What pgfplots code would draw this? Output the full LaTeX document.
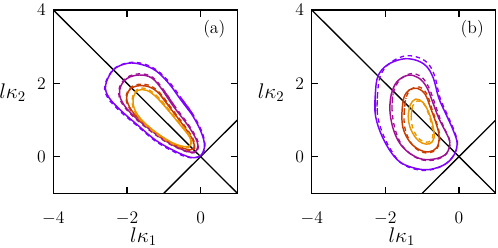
\documentclass[border=0pt]{standalone}
\usepackage{pgfplots}
\pgfplotsset{compat=1.18}
\definecolor{cpurp}{RGB}{128,0,255}
\definecolor{cmag}{RGB}{160,16,150}
\definecolor{cred}{RGB}{200,60,0}
\definecolor{corg}{RGB}{235,150,0}
\pgfplotsset{
 sol/.style={smooth, tension=0.6, line width=1pt},
 das/.style={smooth, tension=0.6, line width=0.9pt, dash pattern=on 3pt off 2.5pt},
 panel/.style={
  width=125.2pt,height=124.7pt,scale only axis,
  xmin=-4,xmax=1,ymin=-1,ymax=4,
  xtick={-4,-2,0}, ytick={0,2,4},
  tick align=inside, major tick length=4.5pt,
  axis line style={line width=0.9pt},
  every tick/.style={black,line width=0.9pt},
  tick label style={font=\fontsize{12}{14}\selectfont},
  xticklabel style={yshift=-9.4pt},
  yticklabel style={xshift=-1.7pt},
  xlabel={$l\kappa_1$}, ylabel={$l\kappa_2$},
  every axis x label/.style={at={(rel axis cs:0.49,0)},anchor=base,yshift=-33.6pt,inner sep=0pt,font=\fontsize{14}{16}\selectfont},
  every axis y label/.style={at={(rel axis cs:0,0.518)},anchor=base east,xshift=-18.4pt,inner sep=0pt,font=\fontsize{14}{16}\selectfont},
 }
}
\begin{document}
\begin{tikzpicture}
\begin{axis}[panel, at={(0,0)}, anchor=south west]
\addplot[black,line width=0.9pt] coordinates {(-4,4) (1,-1)};
\addplot[black,line width=0.9pt] coordinates {(-1,-1) (1,1)};
% purple
\addplot[cpurp,sol] coordinates {(-0.247,1.167) (-0.552,1.570) (-0.849,1.980) (-1.202,2.333) (-1.591,2.510) (-1.980,2.546) (-2.369,2.369) (-2.581,1.945) (-2.489,1.612) (-2.150,1.245) (-1.697,0.849) (-1.237,0.460) (-0.792,0.198) (-0.403,0.021) (-0.170,-0.028) (0.021,0.049) (0.106,0.318) (0.0,0.707) (-0.247,1.167) (-0.552,1.570)};
\addplot[cpurp,das] coordinates {(-0.23,1.19) (-0.53,1.60) (-0.83,2.01) (-1.19,2.36) (-1.58,2.54) (-1.98,2.56) (-2.37,2.38) (-2.60,1.95) (-2.52,1.60) (-2.17,1.22) (-1.71,0.83) (-1.25,0.44) (-0.80,0.17) (-0.41,0.0) (-0.15,-0.03) (0.05,0.06) (0.12,0.33) (0.02,0.72) (-0.23,1.19) (-0.53,1.60)};
% magenta
\addplot[cmag,sol] coordinates {(-0.742,1.379) (-1.025,1.803) (-1.322,2.143) (-1.662,2.227) (-1.994,2.135) (-2.178,1.895) (-2.171,1.577) (-1.909,1.202) (-1.379,0.742) (-0.884,0.389) (-0.460,0.177) (-0.233,0.120) (-0.106,0.177) (-0.092,0.403) (-0.318,0.813) (-0.742,1.379) (-1.025,1.803)};
\addplot[cmag,das] coordinates {(-0.72,1.40) (-1.01,1.83) (-1.31,2.17) (-1.66,2.26) (-2.00,2.16) (-2.20,1.90) (-2.19,1.56) (-1.92,1.18) (-1.39,0.72) (-0.89,0.37) (-0.45,0.16) (-0.22,0.10) (-0.09,0.16) (-0.07,0.41) (-0.30,0.83) (-0.72,1.40) (-1.01,1.83)};
% red
\addplot[cred,sol] coordinates {(-0.813,1.308) (-1.117,1.711) (-1.414,1.909) (-1.754,1.923) (-1.945,1.803) (-2.001,1.534) (-1.803,1.167) (-1.358,0.764) (-0.863,0.410) (-0.474,0.233) (-0.276,0.191) (-0.177,0.247) (-0.226,0.481) (-0.509,0.905) (-0.813,1.308) (-1.117,1.711)};
\addplot[cred,das] coordinates {(-0.80,1.33) (-1.11,1.74) (-1.41,1.95) (-1.76,1.96) (-1.96,1.82) (-2.02,1.53) (-1.82,1.15) (-1.37,0.75) (-0.87,0.39) (-0.47,0.21) (-0.26,0.17) (-0.16,0.23) (-0.21,0.50) (-0.49,0.92) (-0.80,1.33) (-1.11,1.74)};
% orange
\addplot[corg,sol] coordinates {(-0.870,1.252) (-1.167,1.591) (-1.450,1.803) (-1.697,1.810) (-1.817,1.647) (-1.817,1.365) (-1.640,1.047) (-1.273,0.707) (-0.849,0.424) (-0.552,0.297) (-0.361,0.276) (-0.262,0.332) (-0.304,0.544) (-0.552,0.863) (-0.870,1.252) (-1.167,1.591)};
\addplot[corg,das] coordinates {(-0.85,1.27) (-1.15,1.62) (-1.44,1.84) (-1.70,1.85) (-1.84,1.66) (-1.84,1.36) (-1.66,1.03) (-1.29,0.69) (-0.86,0.40) (-0.55,0.27) (-0.35,0.25) (-0.24,0.32) (-0.28,0.56) (-0.53,0.88) (-0.85,1.27) (-1.15,1.62)};
\node[anchor=north east,inner sep=0pt,xshift=-8pt,yshift=-6.5pt,font=\fontsize{12}{14}\selectfont] at (rel axis cs:1,1) {(a)};
\end{axis}
\begin{axis}[panel, at={(175.8pt,0)}, anchor=south west]
\addplot[black,line width=0.9pt] coordinates {(-4,4) (1,-1)};
\addplot[black,line width=0.9pt] coordinates {(-1,-1) (1,1)};
% purple
\addplot[cpurp,sol] coordinates {(-2.28,1.2) (-2.27,1.75) (-2.2,2.2) (-1.95,2.5) (-1.55,2.66) (-1.2,2.64) (-0.9,2.48) (-0.7,2.15) (-0.55,1.6) (-0.35,1.15) (-0.15,0.7) (-0.05,0.35) (-0.15,0.02) (-0.4,-0.22) (-0.8,-0.35) (-1.18,-0.32) (-1.6,-0.15) (-1.9,0.2) (-2.15,0.7) (-2.28,1.2) (-2.27,1.75)};
\addplot[cpurp,das] coordinates {(-2.22,1.2) (-2.21,1.75) (-2.13,2.22) (-1.88,2.55) (-1.5,2.74) (-1.15,2.72) (-0.85,2.55) (-0.66,2.2) (-0.52,1.62) (-0.32,1.15) (-0.12,0.68) (-0.04,0.33) (-0.17,0.0) (-0.43,-0.24) (-0.82,-0.37) (-1.2,-0.34) (-1.58,-0.17) (-1.86,0.2) (-2.1,0.7) (-2.22,1.2) (-2.21,1.75)};
% magenta
\addplot[cmag,sol] coordinates {(-1.88,1.3) (-1.84,1.7) (-1.68,2.05) (-1.38,2.22) (-1.1,2.15) (-0.88,1.9) (-0.72,1.5) (-0.55,1.05) (-0.35,0.65) (-0.25,0.4) (-0.33,0.1) (-0.6,-0.05) (-1.0,-0.07) (-1.35,0.1) (-1.62,0.38) (-1.8,0.8) (-1.88,1.3) (-1.84,1.7)};
\addplot[cmag,das] coordinates {(-1.82,1.3) (-1.79,1.72) (-1.62,2.08) (-1.33,2.26) (-1.05,2.2) (-0.84,1.93) (-0.68,1.52) (-0.52,1.05) (-0.33,0.63) (-0.24,0.38) (-0.34,0.08) (-0.62,-0.08) (-1.0,-0.09) (-1.33,0.08) (-1.58,0.36) (-1.75,0.8) (-1.82,1.3) (-1.79,1.72)};
% red
\addplot[cred,sol] coordinates {(-1.55,1.2) (-1.5,1.6) (-1.35,1.82) (-1.12,1.86) (-0.92,1.7) (-0.78,1.35) (-0.62,0.9) (-0.54,0.55) (-0.6,0.25) (-0.82,0.13) (-1.1,0.2) (-1.35,0.42) (-1.52,0.78) (-1.55,1.2) (-1.5,1.6)};
\addplot[cred,das] coordinates {(-1.49,1.2) (-1.44,1.6) (-1.3,1.84) (-1.08,1.9) (-0.88,1.72) (-0.75,1.35) (-0.6,0.9) (-0.52,0.53) (-0.6,0.22) (-0.83,0.1) (-1.1,0.17) (-1.32,0.4) (-1.47,0.78) (-1.49,1.2) (-1.44,1.6)};
% orange
\addplot[corg,sol] coordinates {(-1.38,1.1) (-1.33,1.4) (-1.18,1.57) (-0.98,1.48) (-0.82,1.2) (-0.7,0.8) (-0.68,0.5) (-0.8,0.35) (-1.0,0.37) (-1.18,0.52) (-1.33,0.8) (-1.38,1.1) (-1.33,1.4)};
\addplot[corg,das] coordinates {(-1.3,1.1) (-1.26,1.38) (-1.13,1.52) (-0.96,1.44) (-0.83,1.17) (-0.73,0.8) (-0.72,0.52) (-0.82,0.4) (-0.99,0.42) (-1.14,0.55) (-1.26,0.8) (-1.3,1.1) (-1.26,1.38)};
\node[anchor=north east,inner sep=0pt,xshift=-8pt,yshift=-6.5pt,font=\fontsize{12}{14}\selectfont] at (rel axis cs:1,1) {(b)};
\end{axis}
\pgfresetboundingbox
\path (-36.3pt,-37.2pt) rectangle (302.5pt,131.5pt);
\end{tikzpicture}
\end{document}
